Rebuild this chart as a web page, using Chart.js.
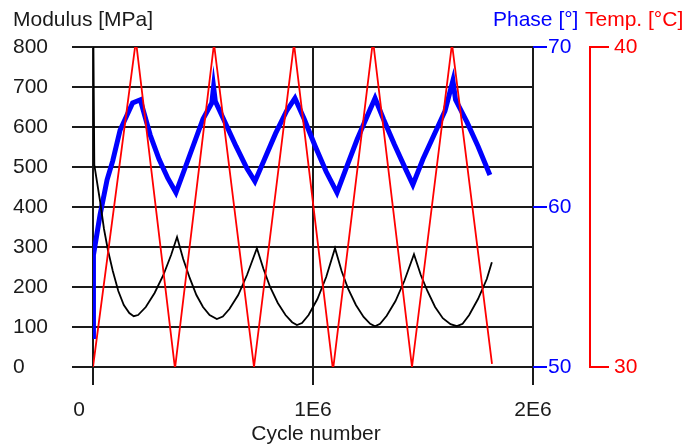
<!DOCTYPE html>
<html>
<head>
<meta charset="utf-8">
<script src="https://cdn.jsdelivr.net/npm/chart.js@4"></script>
<style>
  body { margin: 0; background: #fff; }
  canvas { display: block; }
</style>
</head>
<body>
<canvas id="c" width="684" height="448"></canvas>
<script>
// axis ticks
const xTicks = [0, 1000000, 2000000];
const xTickLabels = ['0', '1E6', '2E6'];
const yTicks = [0, 100, 200, 300, 400, 500, 600, 700, 800];
const phaseTicks = [50, 60, 70];
const tempTicks = [30, 40];

// modulus [MPa] (black)
const modCycles = [2000, 6000, 32000, 50000, 68000, 90000, 115000, 140000, 165000, 185000, 205000,
  240000, 280000, 320000, 355000, 382000,
  410000, 440000, 470000, 500000, 530000, 563000, 590000,
  620000, 660000, 700000, 745000,
  775000, 805000, 840000, 875000, 905000, 927000, 950000,
  980000, 1020000, 1060000, 1100000,
  1130000, 1160000, 1195000, 1230000, 1260000, 1282000, 1305000,
  1335000, 1375000, 1415000, 1459000,
  1490000, 1520000, 1555000, 1590000, 1625000, 1654000, 1680000,
  1710000, 1750000, 1790000, 1813000];
const modValues = [800, 505, 415, 345, 292, 240, 190, 155, 135, 127, 130,
  150, 185, 230, 280, 325,
  270, 222, 180, 150, 130, 120, 126,
  145, 180, 230, 297,
  245, 200, 160, 130, 112, 105, 110,
  130, 170, 225, 297,
  240, 195, 155, 125, 108, 102, 108,
  128, 165, 215, 282,
  230, 190, 150, 122, 107, 102, 108,
  130, 170, 220, 262];

// phase [°] (blue)
const phaseCycles = [0, 2000, 32000, 64000, 90000, 123000, 180000, 215000,
  260000, 300000, 340000, 377000,
  420000, 460000, 500000, 540000, 548000, 556000,
  600000, 650000, 700000, 736000,
  780000, 830000, 880000, 918000,
  960000, 1010000, 1060000, 1109000,
  1150000, 1200000, 1250000, 1282000,
  1320000, 1370000, 1420000, 1454000,
  1500000, 1550000, 1600000, 1636000, 1648000,
  1700000, 1750000, 1804000];
const phaseValues = [51.9, 57, 59.5, 61.7, 62.9, 64.8, 66.5, 66.7,
  64.5, 63, 61.8, 60.9,
  62.5, 64, 65.5, 66.5, 67.5, 66.6,
  65.3, 63.8, 62.4, 61.6,
  63, 64.6, 66, 66.8,
  65.5, 63.8, 62.2, 60.9,
  62.4, 64.2, 65.8, 66.8,
  65.5, 63.9, 62.4, 61.4,
  63, 64.5, 66, 67.9, 66.7,
  65.3, 63.8, 62];

// temperature [°C] (red)
const tempCycles = [0, 195000, 372700, 550000, 731800, 913600, 1090900, 1272700, 1450000, 1631800, 1813600];
const tempValues = [30, 40.2, 29.95, 40.1, 30, 40.1, 29.9, 40.2, 30, 40.1, 30.1];

const pts = (xs, ys) => xs.map((x, i) => ({ x: x, y: ys[i] }));

const FONT = '21px "Liberation Sans", Arial, sans-serif';
const INK = '#1a1a1a';

function seg(ctx, x1, y1, x2, y2) {
  ctx.beginPath();
  ctx.moveTo(x1, y1);
  ctx.lineTo(x2, y2);
  ctx.stroke();
}

const axesPlugin = {
  id: 'axesPlugin',
  beforeDatasetsDraw(chart) {
    const { ctx, chartArea: a, scales } = chart;
    const x = scales.x, y = scales.y;
    ctx.save();
    ctx.strokeStyle = INK;
    ctx.lineWidth = 2;
    yTicks.forEach(v => {
      const py = Math.round(y.getPixelForValue(v));
      seg(ctx, a.left - 21, py, a.right, py);
    });
    xTicks.forEach(v => {
      const px = Math.round(x.getPixelForValue(v));
      seg(ctx, px, a.top, px, a.bottom + 18);
    });
    ctx.restore();
  },
  afterDraw(chart) {
    const { ctx, chartArea: a, scales } = chart;
    const x = scales.x, y = scales.y, yp = scales.phase, yt = scales.temp;
    ctx.save();
    ctx.font = FONT;
    ctx.textBaseline = 'middle';

    // left axis
    ctx.fillStyle = INK;
    ctx.textAlign = 'left';
    ctx.fillText('Modulus [MPa]', 13, 20);
    yTicks.forEach(v => ctx.fillText(String(v), 13, y.getPixelForValue(v)));

    // x axis
    ctx.textAlign = 'center';
    xTicks.forEach((v, i) => {
      const px = x.getPixelForValue(v) - (i === 0 ? 14 : 0);
      ctx.fillText(xTickLabels[i], px, 410);
    });
    ctx.fillText('Cycle number', 316, 434);

    // phase axis
    ctx.strokeStyle = '#0000ff';
    ctx.fillStyle = '#0000ff';
    ctx.lineWidth = 2;
    ctx.textAlign = 'left';
    phaseTicks.forEach(v => {
      const py = Math.round(yp.getPixelForValue(v));
      seg(ctx, a.right, py, a.right + 14, py);
      ctx.fillText(String(v), a.right + 15, py);
    });
    ctx.fillText('Phase [°]', 493, 20);

    // temperature axis
    ctx.strokeStyle = '#ff0000';
    ctx.fillStyle = '#ff0000';
    const tx = a.right + 57;
    seg(ctx, tx, yt.getPixelForValue(tempTicks[0]), tx, yt.getPixelForValue(tempTicks[tempTicks.length - 1]));
    tempTicks.forEach(v => {
      const py = Math.round(yt.getPixelForValue(v));
      seg(ctx, tx - 1, py, tx + 19, py);
      ctx.fillText(String(v), tx + 24, py);
    });
    ctx.fillText('Temp. [°C]', 585, 20);
    ctx.restore();
  }
};

new Chart(document.getElementById('c'), {
  type: 'scatter',
  data: {
    datasets: [
      { label: 'Temp.', data: pts(tempCycles, tempValues), yAxisID: 'temp', showLine: true,
        borderColor: '#ff0000', borderWidth: 1.8, pointRadius: 0, order: 1 },
      { label: 'Modulus', data: pts(modCycles, modValues), yAxisID: 'y', showLine: true,
        borderColor: '#000000', borderWidth: 1.8, pointRadius: 0, order: 2 },
      { label: 'Phase', data: pts(phaseCycles, phaseValues), yAxisID: 'phase', showLine: true,
        borderColor: '#0000ff', borderWidth: 5, pointRadius: 0, order: 3 }
    ]
  },
  options: {
    responsive: false,
    animation: false,
    devicePixelRatio: 1,
    layout: { padding: { left: 93, right: 151, top: 47, bottom: 81 } },
    plugins: { legend: { display: false }, tooltip: { enabled: false } },
    scales: {
      x: { type: 'linear', min: 0, max: 2000000, display: false },
      y: { min: 0, max: 800, display: false },
      phase: { position: 'right', min: 50, max: 70, display: false },
      temp: { position: 'right', min: 30, max: 40, display: false }
    }
  },
  plugins: [axesPlugin]
});
</script>
</body>
</html>
